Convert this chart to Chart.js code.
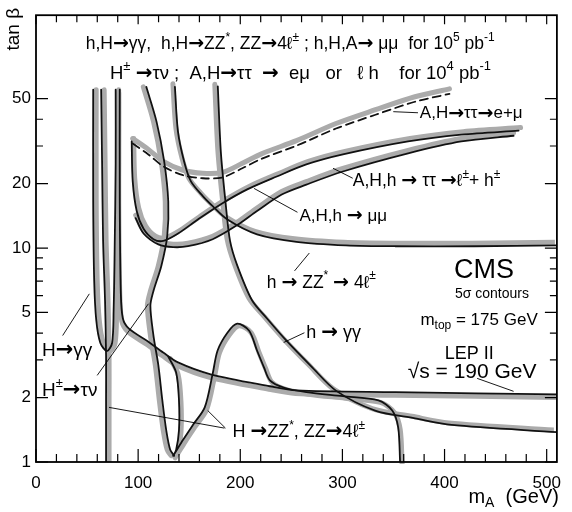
<!DOCTYPE html>
<html>
<head>
<meta charset="utf-8">
<script src="https://cdn.jsdelivr.net/npm/chart.js@4"></script>
<style>
  body { margin: 0; background: #fff; }
</style>
</head>
<body>
<canvas id="contours" width="572" height="512"></canvas>
<script>
const FONT = "'Liberation Sans', Arial, Helvetica, sans-serif";
const ARROW_FONT = "'DejaVu Sans', sans-serif";

const massTicks = [0, 100, 200, 300, 400, 500];
const tanbTicks = [1, 2, 5, 10, 20, 50];
const tanbMinor = [3, 4, 6, 7, 8, 9, 30, 40];

// H -> gamma gamma, narrow region at low mA
const hGgHeavyMass = [56, 56, 57, 59, 63, 69.5, 74.5, 76, 77, 78, 78];
const hGgHeavyTanb = [55, 16.5, 7, 4.6, 3.6, 3.3, 3.6, 5.1, 9.7, 25, 55];

// steep edge near mA = 69
const lowEdgeMass = [68.6, 68.6, 68.6, 67.6, 65.7, 64.7, 63.8];
const lowEdgeTanb = [1, 1.94, 3.15, 5.67, 10.8, 25.4, 55];

// LEP II, sqrt(s) = 190 GeV
const lepMass = [82, 82, 83, 85, 91, 110, 124.5, 139, 171, 229, 255, 352, 510];
const lepTanb = [55, 16.5, 6.3, 4.7, 4.2, 3.65, 3.25, 2.92, 2.57, 2.26, 2.16, 2.12, 2.07];

// H+- -> tau nu
const hpTaunuMass = [108, 118, 125.5, 129.5, 128.5, 122.7, 115, 112, 115, 119.8, 123.7, 127.5, 131.4, 135.3];
const hpTaunuTanb = [56.7, 39, 25.4, 16.5, 11.4, 8.25, 6.3, 5.37, 3.9, 2.83, 1.94, 1.41, 1.14, 1.07];

// h -> ZZ* -> 4 leptons
const hZZlightMass = [136, 139, 145, 151.7, 163.3, 173, 187.4, 216.4, 255, 303.4, 351.7, 429, 510];
const hZZlightTanb = [56.7, 35, 25.4, 20.5, 17.5, 15.7, 13.6, 11.6, 10.7, 10.3, 10.2, 10.2, 10.3];

// h -> gamma gamma
const hGgLightMass = [178, 181, 185.5, 190, 197, 211.5, 226, 245, 269.5, 294, 332, 371, 407, 510];
const hGgLightTanb = [57, 28, 16.5, 10.8, 8.3, 5.7, 4.7, 3.7, 2.8, 2.15, 1.74, 1.6, 1.49, 1.38];

// H -> ZZ*, ZZ -> 4 leptons
const hZZheavyMass = [129.5, 137.2, 140, 140, 137.2, 134.3, 144, 153.6, 165.2, 173, 177.8, 187.4, 197, 208.7, 216.4, 223.2, 229, 242.5, 264.7, 300.5, 335.3, 348.8, 354.6, 356.5];
const hZZheavyTanb = [3.11, 2.62, 1.94, 1.41, 1.14, 1.07, 1.27, 1.49, 1.8, 2.59, 3.32, 4.02, 4.43, 4.11, 3.32, 2.77, 2.41, 2.23, 2.12, 2.03, 1.94, 1.74, 1.45, 1.0];

// A,H -> tau tau -> e + mu (dashed)
const eMuMass = [94.7, 110, 124.6, 144, 163.3, 182.6, 202, 221.3, 255, 293.7, 332.4, 371, 404.8];
const eMuTanb = [30.8, 27.4, 24.1, 21.9, 21.2, 21.4, 23.6, 26.2, 30.1, 36.2, 42, 48.3, 52.6];

// A,H,h -> tau tau -> lepton + hadron
const tauLhMass = [93.7, 94.7, 98.6, 105.3, 115, 124.6, 139.1, 158.5, 182.6, 206.8, 235.7, 264.7, 300.5, 364.3, 416.4, 472.5];
const tauLhTanb = [31.5, 20.5, 14.9, 12.3, 11, 10.8, 11.7, 13.6, 16.2, 18.8, 21.6, 24.6, 27.4, 31.5, 33.9, 35.4];

// A,H,h -> mu mu
const muMuMass = [97.6, 105.3, 119.8, 134.3, 148.8, 173, 197, 216.4, 240.6, 264.7, 300.5, 364.3, 416.4, 467.6];
const muMuTanb = [13.8, 11.7, 10.4, 10.1, 10.2, 11, 12.8, 14.9, 17.8, 19.8, 22.8, 27.7, 31.5, 33.5];

// text annotations: rich parts, anchor (mA, tan beta), size, alignment
const notes = [
  { parts: [['h,H→γγ,  h,H→ZZ'], ['*', 'sup'], [', ZZ→4ℓ'], ['±', 'sup'], [' ; h,H,A→ μμ  for 10'], ['5', 'sup'], [' pb'], ['-1', 'sup']], m: 248.8, t: 89.8, size: 17.5, align: 'center' },
  { parts: [['H'], ['±', 'sup'], [' →τν ;  A,H→ττ  →  eμ   or   ℓ h    for 10'], ['4', 'sup'], [' pb'], ['-1', 'sup']], m: 259, t: 65.2, size: 18.5, align: 'center' },
  { parts: [['A,H→ττ→e+μ']], m: 375.8, t: 42.5, size: 17, align: 'left' },
  { parts: [['A,H,h → ττ →ℓ'], ['±', 'sup'], ['+ h'], ['±', 'sup']], m: 310.1, t: 20.5, size: 17.5, align: 'left' },
  { parts: [['A,H,h → μμ']], m: 258, t: 14.1, size: 17, align: 'left' },
  { parts: [['h → ZZ'], ['*', 'sup'], [' → 4ℓ'], ['±', 'sup']], m: 226, t: 6.88, size: 17.5, align: 'left' },
  { parts: [['CMS']], m: 438.6, t: 7.82, size: 27, align: 'center' },
  { parts: [['5σ contours']], m: 446.4, t: 6.11, size: 14, align: 'center' },
  { parts: [['m'], ['top', 'sub'], [' = 175 GeV']], m: 433.8, t: 4.58, size: 17, align: 'center' },
  { parts: [['LEP II']], m: 424.2, t: 3.21, size: 18, align: 'center' },
  { parts: [['√s = 190 GeV']], m: 427, t: 2.62, size: 21, align: 'center' },
  { parts: [['h → γγ']], m: 264.7, t: 4.0, size: 18, align: 'left' },
  { parts: [['H →ZZ'], ['*', 'sup'], [', ZZ→4ℓ'], ['±', 'sup']], m: 192.3, t: 1.38, size: 18, align: 'left' },
  { parts: [['H→γγ']], m: 5.8, t: 3.32, size: 19, align: 'left' },
  { parts: [['H'], ['±', 'sup'], ['→τν']], m: 5.8, t: 2.16, size: 19, align: 'left' }
];

// leader lines from labels to their contours: [mA1, tanb1, mA2, tanb2]
const leaders = [
  [349.8, 43.4, 374, 42.9],
  [290.8, 23.6, 310.1, 21.2],
  [213.5, 19.0, 256, 14.7],
  [253.1, 7.82, 267.6, 9.48],
  [431.9, 2.46, 467.6, 2.14],
  [242.5, 3.62, 262.8, 4.02],
  [71.5, 1.80, 184.5, 1.44],
  [168.1, 1.74, 185.5, 1.44],
  [26.1, 3.90, 52.2, 6.11],
  [59.9, 2.54, 110.1, 5.49]
];

function points(mass, tanb) {
  return mass.map((m, i) => ({ x: m, y: tanb[i] }));
}

// each contour: a grey hatched band offset to the signal side, then the black edge.
// bands get a higher order so every band sits below every black edge
function contour(mass, tanb, shift, dash) {
  const data = points(mass, tanb);
  return [
    { data, borderColor: '#ababab', borderWidth: 5, shift, order: 2 },
    { data, borderColor: '#111111', borderWidth: 1.8, borderDash: dash || [], order: 1 }
  ];
}

const datasets = [].concat(
  contour(hGgHeavyMass, hGgHeavyTanb, [3, 0]),
  contour(lowEdgeMass, lowEdgeTanb, [3, 0]),
  contour(lepMass, lepTanb, [-1, 3]),
  contour(hpTaunuMass, hpTaunuTanb, [-3, 0]),
  contour(hZZlightMass, hZZlightTanb, [-2, -3]),
  contour(hGgLightMass, hGgLightTanb, [-3, -2]),
  contour(hZZheavyMass, hZZheavyTanb, [2, 2]),
  contour(eMuMass, eMuTanb, [0, -5], [8, 5]),
  contour(tauLhMass, tauLhTanb, [2, -3]),
  contour(muMuMass, muMuTanb, [0, -3])
);

const bandShift = {
  id: 'bandShift',
  beforeDatasetDraw(chart, args) {
    const s = chart.data.datasets[args.index].shift;
    chart.ctx.save();
    if (s) chart.ctx.translate(s[0], s[1]);
  },
  afterDatasetDraw(chart) {
    chart.ctx.restore();
  }
};

// draws text with super/subscripts; arrows use a heavier face
function drawRich(ctx, parts, x, y, size, align) {
  const small = Math.round(size * 0.68);
  const pieces = [];
  parts.forEach(([t, k]) => {
    t.split(/(→)/).forEach(s => {
      if (!s) return;
      const arrow = s === '→';
      const font = arrow ? 'bold ' + Math.round(size * 1.1) + 'px ' + ARROW_FONT
                         : (k ? small : size) + 'px ' + FONT;
      ctx.font = font;
      pieces.push({ s, k, font, w: ctx.measureText(s).width });
    });
  });
  const w = pieces.reduce((sum, p) => sum + p.w, 0);
  let cx = align === 'center' ? x - w / 2 : align === 'right' ? x - w : x;
  ctx.textAlign = 'left';
  ctx.textBaseline = 'middle';
  pieces.forEach(p => {
    ctx.font = p.font;
    const dy = p.k === 'sup' ? -size * 0.38 : p.k === 'sub' ? size * 0.32 : 0;
    ctx.fillText(p.s, cx, y + dy);
    cx += p.w;
  });
}

const overlay = {
  id: 'overlay',
  afterDraw(chart) {
    const { ctx, chartArea: a, scales: { x, y } } = chart;
    ctx.save();
    ctx.fillStyle = '#000';
    ctx.strokeStyle = '#000';

    // frame
    ctx.lineWidth = 1.8;
    ctx.strokeRect(a.left, a.top, a.right - a.left, a.bottom - a.top);

    // inward ticks
    ctx.lineWidth = 1.2;
    ctx.beginPath();
    for (let m = 0; m <= 500; m += 20) {
      const px = x.getPixelForValue(m);
      const major = m % 100 === 0;
      ctx.moveTo(px, a.bottom);
      ctx.lineTo(px, a.bottom - (major ? 13 : 8));
      ctx.moveTo(px, a.top);
      ctx.lineTo(px, a.top + (major ? 9 : 7));
    }
    tanbTicks.concat(tanbMinor).forEach(v => {
      const py = y.getPixelForValue(v);
      const len = tanbTicks.includes(v) ? 12 : 7;
      ctx.moveTo(a.left, py);
      ctx.lineTo(a.left + len, py);
      ctx.moveTo(a.right, py);
      ctx.lineTo(a.right - len, py);
    });
    ctx.stroke();

    // leader lines
    ctx.lineWidth = 0.9;
    ctx.beginPath();
    leaders.forEach(([m1, t1, m2, t2]) => {
      ctx.moveTo(x.getPixelForValue(m1), y.getPixelForValue(t1));
      ctx.lineTo(x.getPixelForValue(m2), y.getPixelForValue(t2));
    });
    ctx.stroke();

    // annotations
    notes.forEach(n => {
      drawRich(ctx, n.parts, x.getPixelForValue(n.m), y.getPixelForValue(n.t), n.size, n.align);
    });

    // axis titles
    drawRich(ctx, [['m'], ['A', 'sub'], ['  (GeV)']], a.right + 2, 497, 20, 'right');
    ctx.save();
    ctx.translate(14, a.top + 14);
    ctx.rotate(-Math.PI / 2);
    drawRich(ctx, [['tan β']], 0, 0, 19, 'center');
    ctx.restore();

    ctx.restore();
  }
};

new Chart(document.getElementById('contours'), {
  type: 'scatter',
  data: { datasets },
  options: {
    responsive: false,
    animation: false,
    events: [],
    layout: { padding: { top: 13, right: 7, left: 0, bottom: 0 } },
    elements: {
      point: { radius: 0 },
      line: { tension: 0.3, fill: false, borderCapStyle: 'round', borderJoinStyle: 'round' }
    },
    datasets: { scatter: { showLine: true } },
    plugins: { legend: { display: false }, tooltip: { enabled: false } },
    scales: {
      x: {
        type: 'linear',
        min: 0,
        max: 510,
        afterBuildTicks: s => { s.ticks = massTicks.map(v => ({ value: v })); },
        afterFit: s => { s.height = 50; },
        grid: { display: false, drawTicks: false },
        border: { display: false },
        ticks: { color: '#000', font: { size: 17, family: FONT }, padding: 11, maxRotation: 0, autoSkip: false }
      },
      y: {
        type: 'logarithmic',
        min: 1,
        max: 122.6,
        afterBuildTicks: s => { s.ticks = tanbTicks.map(v => ({ value: v })); },
        afterFit: s => { s.width = 36; },
        grid: { display: false, drawTicks: false },
        border: { display: false },
        ticks: { color: '#000', font: { size: 17, family: FONT }, padding: 5, autoSkip: false, callback: v => String(v) }
      }
    }
  },
  plugins: [bandShift, overlay]
});
</script>
</body>
</html>
